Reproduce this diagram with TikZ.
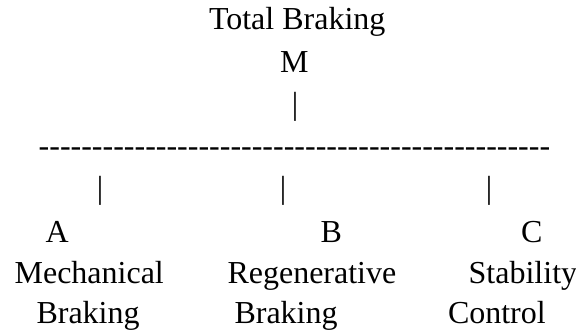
\documentclass[tikz,border=0pt]{standalone}
\usepackage{fontspec}
% TeXOff keeps runs of hyphens as separate hyphens
\setmainfont{Liberation Serif}[Ligatures=TeXOff]
\begin{document}
\begin{tikzpicture}[x=1pt,y=-1pt,
  txt/.style={anchor=base west,inner sep=0pt,outer sep=0pt,
    font=\fontsize{32}{38}\selectfont,text=black}]
% canvas
\fill[white] (0,0) rectangle (576,332);
\useasboundingbox (0,0) rectangle (576,332);
% top of the tree
\node[txt] (total) at (209,29) {Total Braking};
\node[txt] (m) at (280,72) {M};
\node[txt] (stem) at (291.8,114.5) {|};
% the branching rule, typed as hyphens
\node[txt] (rule) at (38.7,156) {------------------------------------------------};
% drops to the three branches
\node[txt] (dropa) at (96.8,198.5) {|};
\node[txt] (dropb) at (279.8,198.5) {|};
\node[txt] (dropc) at (485.8,198.5) {|};
% branch letters
\node[txt] (a) at (45.5,242) {A};
\node[txt] (b) at (320.5,242) {B};
\node[txt] (c) at (521,242) {C};
% branch names
\node[txt] (mech) at (14.6,283) {Mechanical};
\node[txt] (regen) at (227.5,283) {Regenerative};
\node[txt] (stab) at (468.7,283) {Stability};
\node[txt] (mechb) at (36.5,323) {Braking};
\node[txt] (regenb) at (234.5,323) {Braking};
\node[txt] (ctrl) at (448,323) {Control};
\end{tikzpicture}
\end{document}
